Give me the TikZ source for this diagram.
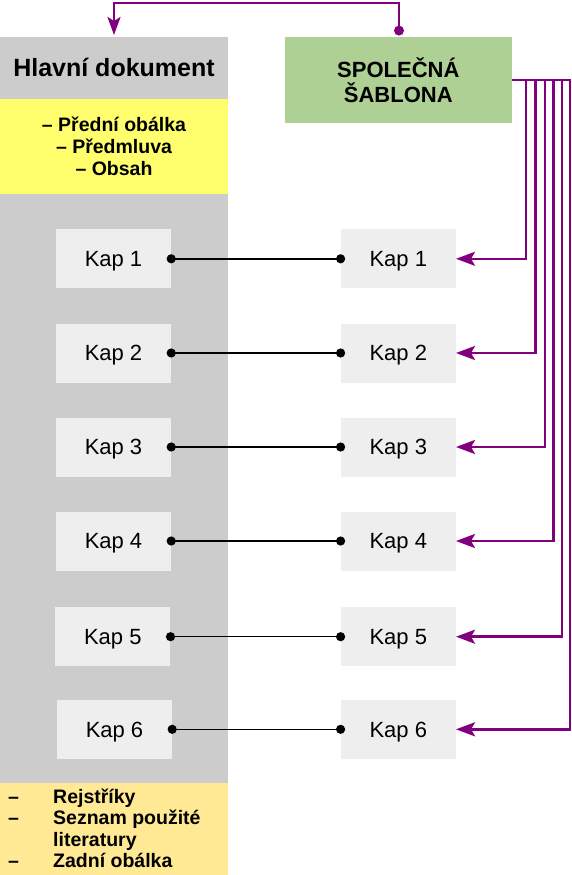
\documentclass[tikz,border=0pt]{standalone}
\usepackage{fontspec}
\setmainfont{Liberation Sans}
\usetikzlibrary{arrows.meta}
\definecolor{hgrey}{HTML}{CCCCCC}
\definecolor{kapbg}{HTML}{EEEEEE}
\definecolor{yel}{HTML}{FFFF6D}
\definecolor{gold}{HTML}{FFE994}
\definecolor{grn}{HTML}{AFD095}
\definecolor{purp}{HTML}{800080}
\tikzset{
  panel/.style={draw=none, inner sep=0pt, anchor=north west},
  kap/.style={fill=kapbg, minimum width=115, minimum height=59, inner sep=0pt,
    text height=15.6pt, text depth=0pt, font=\fontsize{22}{24}\selectfont},
  ytext/.style={anchor=base, inner sep=0pt, font=\bfseries\fontsize{19.5}{22}\selectfont},
  btext/.style={anchor=base west, inner sep=0pt, font=\bfseries\fontsize{19.5}{22}\selectfont},
  blk/.style={draw=black, line width=1.5pt},
  pline/.style={draw=purp, line width=2.6pt},
  parrow/.style={pline, -{Stealth[length=19pt, width=14pt, inset=4pt]}},
}
\begin{document}
\begin{tikzpicture}[x=1pt, y=-1pt]
\useasboundingbox (0,0) rectangle (572,875);
% left column
\node[panel, fill=hgrey, minimum width=228, minimum height=746.3] (body) at (0,36.7) {};
\node[panel, fill=yel, minimum width=228, minimum height=95] (front) at (0,99) {};
\node[panel, fill=gold, minimum width=228, minimum height=92.3] (back) at (0,782.7) {};
\node[anchor=base, inner sep=0pt, font=\bfseries\fontsize{25}{29}\selectfont] (title) at (114,76.7) {Hlavní dokument};
\coordinate (htop) at (114,35);
% front matter
\node[ytext] (y1) at (114,131.7) {– Přední obálka};
\node[ytext] (y2) at (114,153.7) {– Předmluva};
\node[ytext] (y3) at (114,175.7) {– Obsah};
% back matter
\node[btext] (d1) at (8,803.3) {–};
\node[btext] (b1) at (53,803.3) {Rejstříky};
\node[btext] (d2) at (8,824.8) {–};
\node[btext] (b2) at (53,824.8) {Seznam použité};
\node[btext] (b3) at (53,846.3) {literatury};
\node[btext] (d4) at (8,867.8) {–};
\node[btext] (b4) at (53,867.8) {Zadní obálka};
% template
\node[fill=grn, minimum width=227, minimum height=86.6, inner sep=0pt, align=center,
  font=\bfseries\fontsize{22}{25}\selectfont] (green) at (398.3,80) {SPOLEČNÁ\\ŠABLONA};
\coordinate (gtop) at (399,35.2);
% chapters
\node[kap] (L1) at (113.5,258.8) {Kap 1};
\node[kap] (L2) at (113.5,353) {Kap 2};
\node[kap] (L3) at (113.5,447) {Kap 3};
\node[kap] (L4) at (113.5,541) {Kap 4};
\node[kap] (L5) at (112.8,636.7) {Kap 5};
\node[kap] (L6) at (114.5,729.3) {Kap 6};
\node[kap] (R1) at (398.3,258.8) {Kap 1};
\node[kap] (R2) at (398.3,353) {Kap 2};
\node[kap] (R3) at (398.3,447) {Kap 3};
\node[kap] (R4) at (398.3,541) {Kap 4};
\node[kap] (R5) at (398.3,636.7) {Kap 5};
\node[kap] (R6) at (398.3,729.3) {Kap 6};
% black links
\foreach \i in {1,...,6}{
  \draw[blk] (L\i.east) -- (R\i.west);
  \fill (L\i.east) circle[radius=4.6];
  \fill (R\i.west) circle[radius=4.6];
}
% purple template links
\draw[parrow] (green.east) -| ([xshift=70]R1.east) -- (R1.east);
\draw[parrow] (green.east) -| ([xshift=79.7]R2.east) -- (R2.east);
\draw[parrow] (green.east) -| ([xshift=89]R3.east) -- (R3.east);
\draw[parrow] (green.east) -| ([xshift=97.7]R4.east) -- (R4.east);
\draw[parrow] (green.east) -| ([xshift=106]R5.east) -- (R5.east);
\draw[parrow] (green.east) -| ([xshift=114]R6.east) -- (R6.east);
% top link
\draw[pline, -{Stealth[length=18pt, width=13pt, inset=4pt]}] (gtop) -- (gtop |- 0,3) -| (htop);
\fill[purp] (399,30.6) circle[radius=5];
\end{tikzpicture}
\end{document}
